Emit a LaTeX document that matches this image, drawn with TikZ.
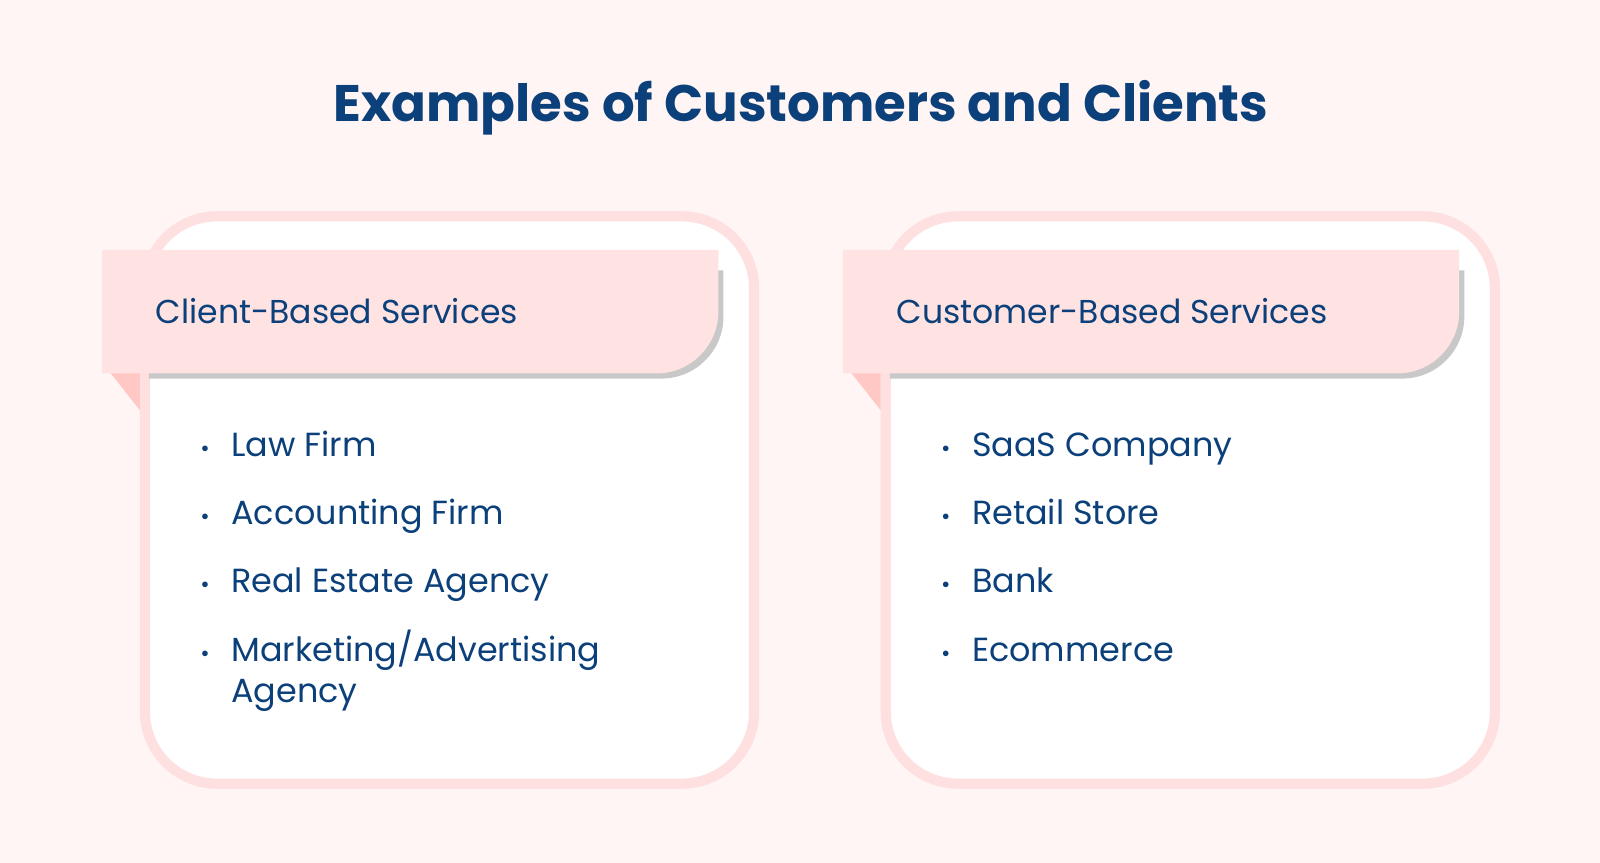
\documentclass[tikz,border=0pt]{standalone}
\usepackage{fontspec}
\setmainfont{Poppins}
\definecolor{nbg}{RGB}{255,245,245}
\definecolor{nborder}{RGB}{255,224,224}
\definecolor{nbanner}{RGB}{255,226,226}
\definecolor{nfold}{RGB}{255,200,196}
\definecolor{nshadow}{RGB}{200,200,200}
\definecolor{nblue}{RGB}{12,64,122}

\tikzset{
    item/.style={anchor=base west, text=nblue, font=\fontsize{9.5}{11.6}\selectfont, align=left, inner sep=0},
    head/.style={anchor=base west, text=nblue, font=\fontsize{9.4}{11.6}\selectfont, inner sep=0},
    dot/.style={anchor=base, text=nblue, font=\fontsize{6.5}{7}\selectfont, inner sep=0}
}

\begin{document}
\begin{tikzpicture}[x=0.0102cm, y=-0.0102cm]
    \fill[nbg] (0,0) rectangle (1568,845.7);
    \node[text=nblue, font=\bfseries\fontsize{14.6}{17}\selectfont] (title) at (785,106) {Examples of Customers and Clients};

    \foreach \dx/\nm/\hd in {0/left/Client-Based Services, 726/right/Customer-Based Services} {
        \begin{scope}[xshift=\dx*0.0102cm]
            % card
            \draw[nborder, line width=2.9pt, fill=white, rounded corners=0.72cm] (142,212) rectangle (739,768);
            % fold
            \fill[nfold] (100,355) -- (137,355) -- (137,402) -- cycle;
            % banner shadow and banner
            \fill[nshadow] (146,265) -- (709,265) [rounded corners=0.62cm] -- (709,371) [sharp corners] -- (146,371) -- cycle;
            \fill[nbanner] (100,245) -- (704,245) [rounded corners=0.62cm] -- (704,366) [sharp corners] -- (100,366) -- cycle;
            \node[head] (\nm-head) at (152,317) {\hd};
        \end{scope}
    }

    % client list
    \foreach \i/\y/\t in {1/447/Law Firm, 2/514/Accounting Firm, 3/581/Real Estate Agency} {
        \node[dot] (cb\i) at (201,\y) {\textbullet};
        \node[item] (ci\i) at (226,\y) {\t};
    }
    \node[dot] (cb4) at (201,648) {\textbullet};
    \node[item] (ci4) at (226,688) {Marketing/Advertising\\Agency};

    % customer list
    \foreach \i/\y/\t in {1/447/SaaS Company, 2/514/Retail Store, 3/581/Bank, 4/648/Ecommerce} {
        \node[dot] (kb\i) at (927,\y) {\textbullet};
        \node[item] (ki\i) at (952,\y) {\t};
    }
\end{tikzpicture}
\end{document}
